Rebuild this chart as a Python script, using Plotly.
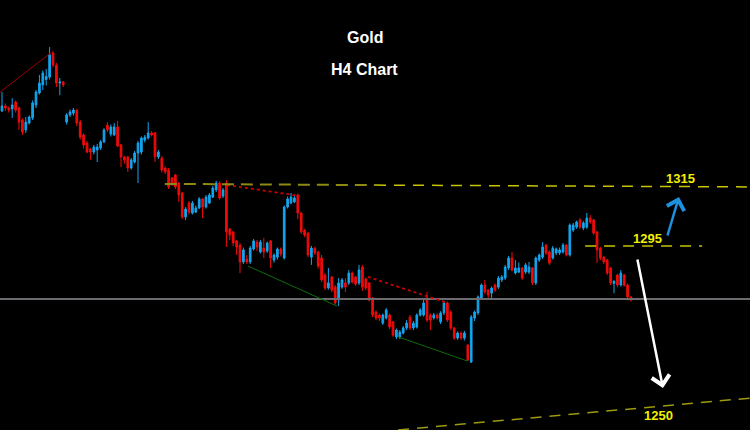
import plotly.graph_objects as go

# 1. Candle data (H4 bars)
opens = [
    1340, 1341.7, 1341, 1340.7, 1343, 1341, 1337, 1333.7, 1336, 1337.7,
    1342, 1346, 1348.7, 1350.5, 1351.3, 1359.3, 1355.3, 1349.3, 1349.7, 1336.3,
    1338.7, 1339.3, 1340.3, 1336.3, 1332, 1329.3, 1327.3, 1326.3, 1327, 1327.7,
    1329.7, 1335.3, 1332.3, 1332, 1334.7, 1328.7, 1324.7, 1324.7, 1321, 1323,
    1326, 1326.3, 1330.3, 1331, 1332.7, 1332.7, 1324.7, 1324.3, 1321, 1320.3,
    1317.7, 1318.7, 1316, 1312.7, 1304.7, 1309.3, 1306, 1306.3, 1307.7, 1310.7,
    1308, 1309.3, 1311.3, 1313.7, 1316, 1311.7, 1316, 1300.7, 1299.7, 1296.7,
    1295.3, 1289.7, 1290.7, 1289.7, 1294, 1296.3, 1293, 1294.3, 1293.3, 1296.7,
    1290.3, 1291.3, 1294, 1291, 1308, 1309.3, 1309.7, 1312, 1306, 1300.3,
    1299.3, 1291.3, 1294.3, 1293, 1291, 1285.3, 1281, 1284.7, 1281.3, 1277,
    1281.3, 1282.7, 1282.7, 1286, 1284.7, 1282.7, 1288, 1284, 1282.7, 1277.7,
    1273, 1272, 1269.3, 1271, 1272, 1269.7, 1264.7, 1264.7, 1266, 1267.7,
    1271.3, 1267.7, 1268, 1272, 1272, 1277.7, 1272, 1271, 1272, 1269.7,
    1272.7, 1276, 1273, 1267.7, 1264.3, 1266, 1264.3, 1262, 1256.3, 1271,
    1272.7, 1277.7, 1282, 1280.3, 1279.3, 1282, 1281.3, 1283.7, 1284.3, 1287.7,
    1291, 1286, 1286.3, 1287.7, 1286.3, 1286.3, 1287.7, 1282.7, 1290.3, 1291.3,
    1295.3, 1293, 1291, 1292.7, 1292.7, 1293, 1295.3, 1292, 1300.3, 1301.3,
    1303.7, 1301, 1301.3, 1304.3, 1303.7, 1299.7, 1294.3, 1291.3, 1290.3, 1287.7,
    1282.5, 1285.3, 1282, 1285.3, 1282, 1278,
]
highs = [
    1346.3, 1342.5, 1341.5, 1344.3, 1343.5, 1341.5, 1337.5, 1338, 1338.5, 1343.5,
    1347, 1352, 1353.5, 1354, 1361.3, 1360, 1356, 1351, 1350, 1339.3,
    1340.5, 1341, 1340.7, 1337, 1332.5, 1330, 1327.7, 1328.7, 1329, 1330.3,
    1334.3, 1336.3, 1335.5, 1336, 1336.7, 1329, 1325, 1325, 1324.3, 1326.7,
    1330, 1331.5, 1332, 1336.3, 1333.3, 1333, 1327, 1325, 1321.5, 1321,
    1318, 1319, 1316.3, 1313, 1308, 1310, 1310, 1308.5, 1311.3, 1311,
    1312, 1312.7, 1315, 1316.7, 1316.5, 1314.3, 1317, 1301, 1300, 1297,
    1296, 1294.5, 1292, 1295, 1297.3, 1297, 1297, 1297.7, 1296.5, 1297,
    1292.5, 1294.5, 1294.5, 1308.5, 1311.5, 1312.7, 1312, 1312.5, 1306.3, 1300.7,
    1299.7, 1295, 1294.7, 1293.3, 1292, 1286, 1287.7, 1285, 1282, 1284.3,
    1284.3, 1284.3, 1287, 1286.5, 1285, 1288.7, 1288.7, 1284.5, 1283, 1278,
    1273.5, 1272.5, 1272.5, 1274.3, 1272.5, 1270, 1267.5, 1267, 1268.3, 1270.3,
    1272, 1270, 1272.5, 1274.3, 1277, 1279.7, 1272.5, 1272.7, 1272.5, 1273.3,
    1276.7, 1276.5, 1273.5, 1268, 1266.5, 1266.5, 1266.7, 1262.3, 1272, 1273.5,
    1278.5, 1282.5, 1283.7, 1280.7, 1281.5, 1282.5, 1285, 1285.3, 1288.7, 1291.7,
    1293, 1290.3, 1289.5, 1288, 1289.3, 1289.7, 1288, 1291.5, 1292.5, 1296.3,
    1295.7, 1293.5, 1295, 1294.5, 1294.5, 1296, 1295.7, 1302.5, 1302.7, 1303.5,
    1304.3, 1303.3, 1306, 1305.3, 1304, 1300, 1294.7, 1291.7, 1290.7, 1288,
    1283.5, 1285.7, 1287, 1285.7, 1282.5, 1278.3,
]
lows = [
    1339.7, 1340, 1339.5, 1337.7, 1339.5, 1333.7, 1332, 1332.7, 1335.5, 1337,
    1341, 1345.5, 1347, 1348.5, 1350.5, 1354.5, 1348, 1345.3, 1348, 1335.5,
    1338, 1338.5, 1335, 1330.5, 1327.5, 1326, 1323.7, 1325.5, 1323, 1327,
    1329.3, 1333, 1331.5, 1331.7, 1328, 1321.3, 1322.5, 1319.7, 1320.5, 1322.5,
    1316, 1325.5, 1329.5, 1330.5, 1331.5, 1323, 1324, 1319.5, 1319, 1314,
    1315, 1314, 1309.7, 1304, 1303.7, 1305.5, 1305.5, 1306, 1307.3, 1304.3,
    1307.5, 1309, 1311, 1313, 1310.5, 1311, 1294.7, 1297, 1295, 1292,
    1286, 1289, 1289, 1289, 1293.5, 1293.3, 1292.5, 1291, 1292.7, 1287.7,
    1289.5, 1290.5, 1291.5, 1290.5, 1307.5, 1309, 1309.3, 1304, 1299, 1298,
    1291.3, 1288.7, 1292, 1287.5, 1283, 1280.3, 1280.5, 1279.7, 1275.5, 1275,
    1280.7, 1279.7, 1282, 1282.5, 1281.7, 1282, 1280, 1280.3, 1276.5, 1271.3,
    1270.3, 1270, 1268.7, 1270.5, 1267.3, 1264.7, 1264, 1264, 1265.5, 1267,
    1267, 1267, 1267.5, 1271.5, 1271.5, 1269.7, 1267, 1270.5, 1270.5, 1269,
    1272, 1269.7, 1267, 1263.7, 1263.7, 1263.7, 1263.5, 1256.7, 1256, 1270,
    1272, 1277, 1279, 1277, 1277, 1279.7, 1280.7, 1283, 1283.7, 1287,
    1286.5, 1285.5, 1286, 1283.7, 1285.7, 1285.7, 1282, 1282, 1289.7, 1290.7,
    1292, 1288.7, 1290.5, 1292, 1292, 1292.5, 1291.5, 1291.5, 1299.7, 1300.7,
    1300.7, 1300.3, 1300.7, 1302.3, 1298.7, 1289.3, 1290.3, 1289, 1285.3, 1282,
    1279.3, 1281.3, 1281.5, 1281.5, 1277.3, 1276.5,
]
closes = [
    1341.7, 1341, 1340.3, 1342, 1340.3, 1336.3, 1333, 1336.3, 1338, 1342.7,
    1346.3, 1349.3, 1352.7, 1351.5, 1358.7, 1355.3, 1349.3, 1349.7, 1348.7, 1338.7,
    1339.7, 1340.3, 1336, 1331.3, 1328.7, 1326.3, 1326.3, 1328, 1328, 1329.7,
    1333.7, 1333.7, 1334.7, 1334.7, 1328.3, 1324.7, 1323.7, 1321, 1323.7, 1326,
    1329.3, 1331, 1331.3, 1332.7, 1332, 1324.7, 1326.3, 1320.3, 1319.7, 1314.7,
    1315.7, 1314.7, 1312, 1304.7, 1307.3, 1306.3, 1309.3, 1307.7, 1310.7, 1308,
    1311.3, 1312, 1314.3, 1316, 1311, 1313.7, 1299.7, 1298.7, 1296, 1294.7,
    1289.7, 1293.7, 1289.7, 1294.3, 1296.7, 1294.7, 1296.3, 1293, 1296, 1291,
    1292, 1294, 1292.3, 1308, 1310.7, 1311.3, 1311, 1306, 1299.7, 1298.7,
    1292, 1294.3, 1292.7, 1288.3, 1283.7, 1281, 1282.7, 1280.3, 1276, 1282.7,
    1283.7, 1281.3, 1286, 1283, 1282.3, 1287, 1281.3, 1281, 1277, 1272,
    1271, 1271, 1272, 1273.7, 1268, 1265.3, 1267, 1266.3, 1267.7, 1269.3,
    1267.7, 1269.3, 1272, 1273.7, 1276, 1270.3, 1270.3, 1272, 1271, 1272.7,
    1276, 1270.3, 1267.7, 1264.3, 1266, 1264.3, 1266, 1257, 1271.3, 1273,
    1278, 1282, 1279.7, 1278.7, 1281, 1280.3, 1284.3, 1284.7, 1288, 1291,
    1287, 1287.7, 1287.7, 1284.3, 1288.7, 1288, 1282.7, 1291, 1292, 1294.7,
    1292.7, 1289.3, 1294.3, 1294, 1293.7, 1295.3, 1292, 1302, 1302, 1303,
    1301.3, 1302.7, 1304.3, 1303, 1299.3, 1293.7, 1291, 1289.7, 1286, 1282.7,
    1283.3, 1282, 1286, 1282, 1278, 1277,
]
bars = list(range(len(closes)))

# 2. Drawn levels / trend lines: (bar, price) endpoints
red_trend = ([-0.6, 14.5], [1346.3, 1359.5])
red_dotted_1 = ([66.2, 87.6], [1315.3, 1311.7])
red_dotted_2 = ([107.6, 130.3], [1284.7, 1276.3])
green_1 = ([72.4, 98.5], [1288.3, 1275.0])
green_2 = ([116.5, 136.8], [1264.7, 1256.7])
level_1315_left = ([47.9, 109.7], [1315.7, 1315.3])
level_1315_right = ([109.7, 220.0], [1315.3, 1314.7])
level_1295 = ([171.5, 205.9], [1295.0, 1295.0])
level_1250 = ([116.5, 220.0], [1233.7, 1244.3])
current_price = 1277.3
up_arrow = ([195.6, 199.1], [1298.0, 1311.3])
down_arrow = ([186.8, 194.4], [1291.0, 1247.7])
level_labels = ["1315", "1295", "1250"]

UP = "#14a5ee"
DOWN = "#f20a0a"
X_RANGE = [-0.59, 220]
Y_RANGE = [1233.67, 1377]

fig = go.Figure(
    go.Candlestick(
        x=bars,
        open=opens,
        high=highs,
        low=lows,
        close=closes,
        increasing=dict(line=dict(color=UP, width=1), fillcolor=UP),
        decreasing=dict(line=dict(color=DOWN, width=1), fillcolor=DOWN),
        whiskerwidth=0,
        hoverinfo="skip",
    )
)


def add_line(pts, color, width=1, dash="solid"):
    xs, ys = pts
    fig.add_shape(
        type="line", xref="x", yref="y",
        x0=xs[0], y0=ys[0], x1=xs[1], y1=ys[1],
        line=dict(color=color, width=width, dash=dash),
    )


# 3. Lines
fig.add_shape(
    type="line", xref="paper", yref="y", x0=0, x1=1,
    y0=current_price, y1=current_price, line=dict(color="#6c6c70", width=2),
)
add_line(red_trend, "#a00000", 1)
add_line(red_dotted_1, "#d00000", 1.8, "dot")
add_line(red_dotted_2, "#d00000", 1.8, "dot")
add_line(green_1, "#0b6e0b", 1)
add_line(green_2, "#0b6e0b", 1)
add_line(level_1315_left, "#8c8a12", 2, "12px,7px")
add_line(level_1315_right, "#c8c400", 1.5, "11px,8px")
add_line(level_1295, "#c8c400", 1.5, "11px,8px")
add_line(level_1250, "#9c9a10", 1.5, "11px,8px")

# 4. Arrows
for pts, color in [(up_arrow, "#1e90e0"), (down_arrow, "#ffffff")]:
    xs, ys = pts
    fig.add_annotation(
        x=xs[1], y=ys[1], ax=xs[0], ay=ys[0],
        xref="x", yref="y", axref="x", ayref="y",
        text="", showarrow=True, arrowhead=4, arrowsize=1.4,
        arrowwidth=2.5, arrowcolor=color,
    )

# 5. Texts
title_font = dict(family="Liberation Sans", size=16, color="white")
for txt, py in [("Gold", 38), ("H4 Chart", 69)]:
    fig.add_annotation(x=0.486, y=1 - py / 430, xref="paper", yref="paper",
                       xanchor="center", yanchor="middle",
                       text=f"<b>{txt}</b>", showarrow=False, font=title_font)

label_font = dict(family="Liberation Sans", size=13, color="#f0f000")
for txt, px_x, px_y in zip(level_labels, [680, 647, 658], [178, 238, 415]):
    fig.add_annotation(x=px_x / 750, y=1 - px_y / 430, xref="paper", yref="paper",
                       xanchor="center", yanchor="middle",
                       text=f"<b>{txt}</b>", showarrow=False, font=label_font)

fig.update_layout(
    width=750,
    height=430,
    margin=dict(l=0, r=0, t=0, b=0),
    paper_bgcolor="black",
    plot_bgcolor="black",
    showlegend=False,
    xaxis=dict(visible=False, range=X_RANGE, rangeslider=dict(visible=False)),
    yaxis=dict(visible=False, range=Y_RANGE),
)

# page body: no default margin, black behind the plot
fig.write_html(
    "out.html",
    config={"displayModeBar": False},
    post_script="document.body.style.margin='0';document.body.style.background='black';",
)
